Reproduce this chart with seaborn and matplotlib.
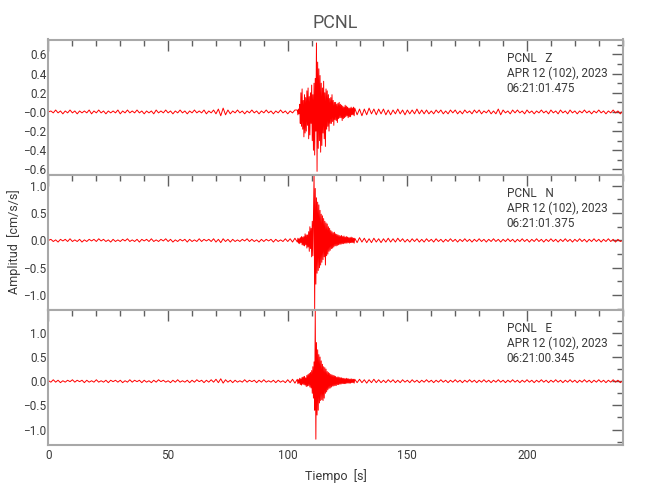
import numpy as np
import matplotlib
matplotlib.use("Agg")
import matplotlib.pyplot as plt
import seaborn as sns
from matplotlib.ticker import MultipleLocator

# ----------------------------
# Data (units of 0.01 cm/s/s)
# three pieces per trace: 0-103 s every 1 s, 104-127.75 s every 0.25 s, 128-240 s every 1 s
# ----------------------------
z_pre = [0, 1, -1, 2, -1, 1, -2, 1, -1, 2,
         -1, 1, -2, 1, -1, 1, -1, 2, -2, 1,
         -1, 2, -1, 1, -2, 1, -1, 1, -1, 2,
         -2, 1, -1, 2, -1, 1, -1, 2, -1, 1,
         -2, 1, -1, 1, -2, 2, -1, 1, -1, 2,
         -1, 1, -2, 1, -1, 2, -1, 1, -2, 1,
         -1, 2, -1, 1, -1, 2, -2, 1, -1, 2,
         -2, 3, -4, 4, -3, 2, -2, 1, -1, 2,
         -1, 1, -2, 1, -1, 2, -1, 1, -2, 1,
         -1, 2, -1, 1, -2, 1, -1, 2, -1, 1,
         -2, 1, -1, 2]
z_burst = [2, -3, 3, -2, 8, -12, 20, -15, 24, -18, 12, -26, 18, -22, 15, -20,
           22, -14, 25, -28, 16, -24, 20, -12, 28, -30, 18, -40, 30, -45, 35, -20,
           72, -62, 52, -38, 45, -30, 38, -42, 30, -35, 25, -22, 32, -28, 20, -36,
           24, -18, 22, -15, 18, -20, 14, -12, 15, -12, 18, -10, 12, -14, 10, -8,
           10, -9, 8, -11, 9, -7, 10, -6, 8, -6, 7, -9, 6, -7, 5, -6,
           7, -5, 6, -4, 5, -6, 4, -5, 4, -5, 5, -3, 4, -3, 5, -4]
z_post = [4, -3, 3, -4, 3, -3, 4, -2, 3, -3,
          3, -2, 3, -3, 2, -3, 2, -2, 3, -2,
          2, -3, 2, -2, 2, -2, 3, -2, 2, -2,
          2, -2, 1, -2, 2, -1, 2, -2, 1, -2,
          2, -1, 2, -2, 1, -2, 2, -1, 1, -2,
          2, -1, 2, -2, 1, -1, 2, -2, 1, -2,
          3, -3, 2, -1, 1, -2, 2, -1, 2, -1,
          1, -2, 2, -1, 1, -2, 1, -1, 2, -1,
          1, -2, 2, -1, 1, -2, 2, -1, 1, -2,
          2, -1, 1, -2, 1, -1, 2, -1, 1, -2,
          1, -1, 2, -1, 1, -2, 1, -1, 2, -1,
          1, -2, 1]

n_pre = [0, 2, -2, 1, -3, 2, -1, 2, -2, 3,
         -2, 1, -2, 2, -3, 1, -2, 2, -1, 2,
         -2, 3, -1, 2, -2, 1, -3, 2, -2, 1,
         -2, 2, -1, 3, -2, 1, -2, 2, -3, 2,
         -1, 2, -2, 3, -2, 1, -2, 2, -1, 3,
         -2, 2, -3, 1, -2, 2, -1, 2, -3, 2,
         -2, 1, -2, 3, -2, 2, -1, 2, -2, 3,
         -3, 2, -4, 3, -2, 2, -3, 2, -2, 1,
         -2, 2, -1, 3, -2, 2, -2, 1, -3, 2,
         -2, 2, -1, 2, -3, 2, -2, 1, -2, 3,
         -2, 3, -3, 4]
n_burst = [-3, 4, -5, 3, -6, 5, -4, 7, -8, 6, -9, 7, -10, 12, -8, 10,
           -14, 10, -12, 16, -20, 25, -15, 22, -30, 35, -28, 40, 120, -125, 95, -80,
           78, -60, 70, -55, 65, -50, 55, -45, 48, -40, 45, -35, 40, -30, 35, -45,
           32, -28, 30, -25, 25, -20, 22, -18, 18, -15, 16, -14, 14, -12, 15, -10,
           12, -10, 11, -9, 10, -8, 9, -7, 8, -7, 9, -6, 7, -6, 8, -5,
           6, -5, 7, -5, 6, -4, 5, -5, 5, -4, 6, -4, 5, -4, 4, -5]
n_post = [4, -4, 5, -3, 4, -4, 3, -4, 4, -3,
          3, -4, 3, -3, 4, -3, 3, -3, 4, -2,
          3, -3, 2, -3, 3, -2, 3, -3, 2, -3,
          3, -2, 2, -3, 3, -2, 2, -3, 2, -2,
          3, -2, 2, -3, 2, -2, 3, -2, 2, -3,
          2, -2, 3, -2, 2, -3, 2, -2, 3, -2,
          2, -3, 2, -2, 3, -2, 2, -3, 2, -2,
          3, -2, 2, -3, 2, -2, 3, -2, 2, -3,
          2, -2, 3, -2, 2, -3, 2, -2, 3, -2,
          2, -3, 2, -2, 3, -2, 2, -3, 2, -2,
          3, -2, 2, -3, 2, -2, 3, -2, 2, -3,
          2, -2, 0]

e_pre = [1, -2, 3, -2, 2, -3, 1, -2, 2, -1,
         3, -2, 2, -1, 2, -3, 2, -2, 1, -2,
         3, -2, 1, -2, 2, -3, 2, -1, 2, -2,
         2, -3, 1, -2, 3, -2, 2, -1, 2, -3,
         2, -2, 1, -3, 2, -2, 3, -1, 2, -2,
         1, -3, 2, -2, 3, -2, 1, -2, 2, -3,
         2, -2, 3, -1, 2, -3, 2, -2, 3, -2,
         4, -3, 5, -4, 3, -2, 2, -3, 2, -2,
         1, -2, 3, -2, 2, -1, 2, -3, 2, -2,
         3, -2, 1, -2, 2, -3, 2, -2, 1, -3,
         3, -3, 4, -4]
e_burst = [4, -5, 3, -4, 6, -7, 5, -8, 8, -6, 9, -7, 10, -8, 7, -11,
           12, -10, 14, -9, 16, -12, 18, -14, 22, -25, 30, -35, 40, -60, 145, -120,
           80, -70, 65, -60, 55, -45, 50, -40, 42, -38, 35, -40, 30, -35, 28, -25,
           25, -22, 20, -18, 18, -15, 16, -14, 14, -12, 13, -10, 12, -10, 11, -9,
           10, -9, 8, -7, 9, -7, 8, -6, 7, -6, 7, -5, 6, -5, 6, -5,
           5, -5, 6, -4, 5, -4, 5, -4, 4, -4, 5, -3, 4, -3, 4, -4]
e_post = [4, -3, 4, -3, 3, -4, 3, -3, 4, -3,
          3, -3, 2, -3, 3, -2, 3, -3, 2, -3,
          3, -2, 2, -3, 3, -2, 2, -3, 2, -2,
          3, -2, 2, -3, 2, -2, 3, -2, 2, -3,
          2, -2, 3, -2, 2, -3, 2, -2, 3, -2,
          2, -3, 2, -2, 3, -2, 2, -3, 2, -2,
          3, -2, 2, -3, 2, -2, 3, -2, 2, -3,
          2, -2, 3, -2, 2, -3, 2, -2, 3, -2,
          2, -3, 2, -2, 3, -2, 2, -3, 2, -2,
          3, -2, 2, -3, 2, -2, 3, -2, 2, -3,
          2, -2, 3, -2, 2, -3, 2, -2, 3, -2,
          2, -3, 1]

components = ["Z", "N", "E"]
start_times = ["06:21:01.475", "06:21:01.375", "06:21:00.345"]
date_text = "APR 12 (102), 2023"
station = "PCNL"

z_ticks = [0.6, 0.4, 0.2, 0.0, -0.2, -0.4, -0.6]
z_labels = ["0.6", "0.4", "0.2", "\u22120.0", "\u22120.2", "\u22120.4", "\u22120.6"]
ne_ticks = [1.0, 0.5, 0.0, -0.5, -1.0]
ne_labels = ["1.0", "0.5", "0.0", "\u22120.5", "\u22121.0"]

# time axis for the three pieces
t = np.concatenate([np.arange(0, 104), 104 + np.arange(96) * 0.25, np.arange(128, 241)])

traces = [np.array(z_pre + z_burst + z_post) / 100.0,
          np.array(n_pre + n_burst + n_post) / 100.0,
          np.array(e_pre + e_burst + e_post) / 100.0]

# ----------------------------
# Style
# ----------------------------
sns.set_style("white")
plt.rcParams["font.family"] = ["Roboto", "DejaVu Sans"]
plt.rcParams["axes.unicode_minus"] = True

text_col = "#3a3a3a"
spine_col = "#a8a8a8"
tick_col = "#606060"

fig, axes = plt.subplots(3, 1, figsize=(6.5, 5), dpi=100, sharex=True,
                         gridspec_kw={"hspace": 0})
fig.subplots_adjust(left=0.0746, right=0.958, top=0.921, bottom=0.111)

ylims = [(-0.653, 0.756), (-1.264, 1.206), (-1.31, 1.484)]

for i, ax in enumerate(axes):
    sns.lineplot(x=t, y=traces[i], ax=ax, color="#ff0000", linewidth=0.7,
                 estimator=None, sort=False)
    ax.set_xlim(0, 240)
    ax.set_ylim(*ylims[i])

    if i == 0:
        ax.set_yticks(z_ticks)
        ax.set_yticklabels(z_labels)
        ax.yaxis.set_minor_locator(MultipleLocator(0.1))
    else:
        ax.set_yticks(ne_ticks)
        ax.set_yticklabels(ne_labels)
        ax.yaxis.set_minor_locator(MultipleLocator(0.25))

    ax.xaxis.set_major_locator(MultipleLocator(50))
    ax.xaxis.set_minor_locator(MultipleLocator(10))

    for s in ax.spines.values():
        s.set_color(spine_col)
        s.set_linewidth(1.5)

    ax.tick_params(which="both", direction="in", top=True, right=True,
                   color=tick_col, labelcolor=text_col, labelsize=8.5)
    ax.tick_params(which="major", length=8, width=1)
    ax.tick_params(which="minor", length=4, width=1)
    ax.tick_params(axis="y", pad=1.5)
    ax.tick_params(axis="x", pad=3)

    ax.text(0.798, 0.905, f"{station}   {components[i]}\n{date_text}\n{start_times[i]}",
            transform=ax.transAxes, ha="left", va="top", fontsize=8.5,
            color=text_col, linespacing=1.15)

axes[0].set_title(station, fontsize=13, color="#555555", pad=8)
axes[-1].set_xlabel("Tiempo  [s]", fontsize=9, color=text_col, labelpad=5)
fig.text(0.021, 0.516, "Amplitud  [cm/s/s]", rotation=90, ha="center", va="center",
         fontsize=9, color=text_col)

plt.savefig("out.png", dpi=100)
